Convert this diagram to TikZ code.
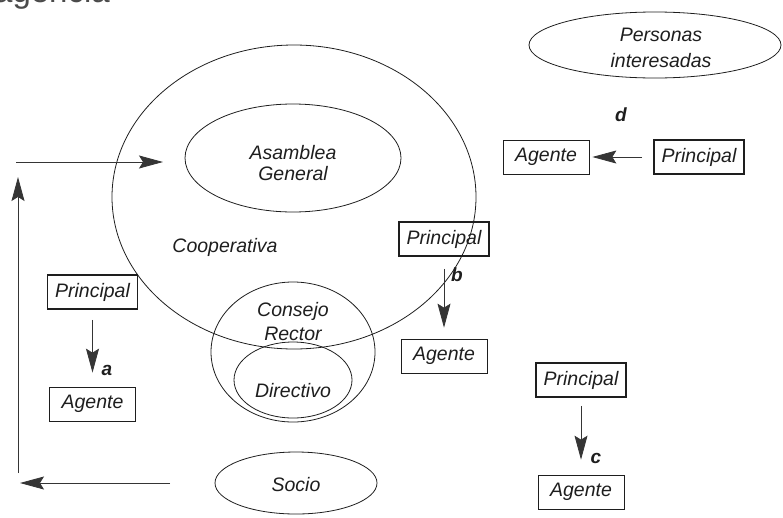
\documentclass[tikz,border=0pt]{standalone}
\usepackage{fontspec}
\setmainfont{Liberation Sans}
\usetikzlibrary{shapes.geometric,arrows.meta}
\definecolor{ink}{HTML}{1E1E1E}
\begin{document}
\begin{tikzpicture}[x=1pt,y=-1pt,
  txt/.style={font=\fontsize{19.5}{23}\selectfont\itshape, text=ink, align=center, inner sep=0},
  lbl/.style={font=\fontsize{19}{22}\selectfont\bfseries\itshape, text=ink, inner sep=0},
  oval/.style={draw=ink, line width=0.8pt, ellipse, inner sep=0},
  pbox/.style={txt, draw=ink, line width=1.6pt, minimum width=90pt, minimum height=34pt},
  abox/.style={txt, draw=ink, line width=0.7pt, minimum width=86pt, minimum height=34pt},
  arr/.style={draw=ink!90, line width=0.8pt, -{Stealth[length=24pt,width=13pt,inset=4pt]}},
]
\useasboundingbox (0,0) rectangle (783,517);
\begin{scope}
\clip (0,0) rectangle (783,517);
\node[anchor=base east, font=\fontsize{33}{33}\selectfont, text=ink!80, inner sep=0] (title) at (110,2) {agencia};
\end{scope}

% ellipses
\node[oval, minimum width=364pt, minimum height=304pt] (coop) at (294,197) {};
\node[oval, minimum width=216pt, minimum height=108pt, txt] (asam) at (293,158) {};
\node[txt, font=\fontsize{19.5}{21}\selectfont\itshape] (asamt) at (293,163) {Asamblea\\General};
\node[txt] (coopt) at (225,247) {Cooperativa};
\node[oval, minimum width=164pt, minimum height=140pt] (cons) at (293,352) {};
\node[txt, font=\fontsize{19.5}{24}\selectfont\itshape] (const) at (293,322) {Consejo\\Rector};
\node[oval, minimum width=118pt, minimum height=76pt] (dir) at (293,380) {};
\node[txt] (dirt) at (293,391) {Directivo};
\node[oval, minimum width=162pt, minimum height=62pt] (socio) at (296,483) {};
\node[txt] (sociot) at (296,485) {Socio};
\node[oval, minimum width=252pt, minimum height=66pt] (pers) at (655,45) {};
\node[txt, font=\fontsize{19.5}{26}\selectfont\itshape] (perst) at (661,48) {Personas\\interesadas};

% principal / agente boxes
\node[pbox] (pa) at (92.5,292) {Principal};
\node[abox] (aa) at (92.5,404) {Agente};
\node[pbox] (pb) at (444,239) {Principal};
\node[abox] (ab) at (444,356) {Agente};
\node[pbox] (pc) at (581,380) {Principal};
\node[abox] (ac) at (581,492) {Agente};
\node[pbox] (pd) at (699,157) {Principal};
\node[abox] (ad) at (546,157) {Agente};

\draw[arr, shorten <=10pt, shorten >=14pt] (pa) -- (aa);
\draw[arr, shorten <=12pt, shorten >=11pt] (pb) -- (ab);
\draw[arr, shorten <=8pt, shorten >=15pt] (pc) -- (ac);
\draw[arr, shorten <=11pt, shorten >=3pt] (pd) -- (ad);

\node[lbl] (la) at (107,370) {a};
\node[lbl] (lb) at (457,275) {b};
\node[lbl] (lc) at (596,458) {c};
\node[lbl] (ld) at (621,115) {d};

% loop
\coordinate (t1) at (16,162);
\coordinate (t2) at (163,162);
\coordinate (v1) at (18,473);
\coordinate (v2) at (18,177);
\coordinate (b1) at (170,483);
\coordinate (b2) at (20,483);
\draw[arr] (t1) -- (t2);
\draw[arr] (v1) -- (v2);
\draw[arr] (b1) -- (b2);
\end{tikzpicture}
\end{document}
